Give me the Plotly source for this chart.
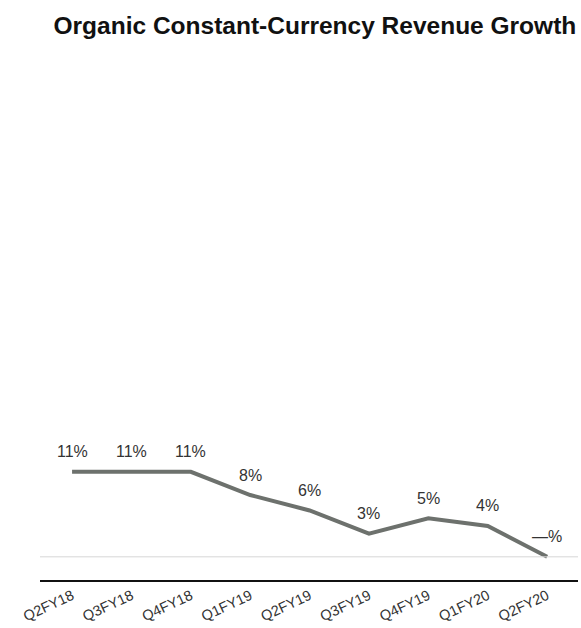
import plotly.graph_objects as go

quarters = ["Q2FY18", "Q3FY18", "Q4FY18", "Q1FY19", "Q2FY19",
            "Q3FY19", "Q4FY19", "Q1FY20", "Q2FY20"]
growth = [11, 11, 11, 8, 6, 3, 5, 4, 0]
labels = ["11%", "11%", "11%", "8%", "6%", "3%", "5%", "4%", "—%"]

FONT = "Liberation Sans, Arial, sans-serif"
xs = list(range(len(quarters)))

fig = go.Figure()
fig.add_trace(go.Scatter(
    x=xs,
    y=growth,
    mode="lines",
    line=dict(color="#6d716d", width=4),
    hoverinfo="skip",
))

# zero reference line
fig.add_shape(type="line", xref="paper", yref="y", x0=0, x1=1, y0=0, y1=0,
              line=dict(color="#d6d6d6", width=1))

# value labels above each point
for xi, yi, lab in zip(xs, growth, labels):
    fig.add_annotation(x=xi, y=yi, text=lab, showarrow=False,
                       yshift=20, xanchor="center", yanchor="middle",
                       font=dict(family=FONT, size=16, color="#333333"))

fig.update_layout(
    width=581, height=628,
    margin=dict(l=40, r=3, t=60, b=48),
    paper_bgcolor="white", plot_bgcolor="white",
    showlegend=False,
    title=dict(text="<b>Organic Constant-Currency Revenue Growth</b>",
               x=0.542, xanchor="center", y=0.96, yanchor="middle",
               font=dict(family=FONT, size=24.5, color="#111111")),
    xaxis=dict(
        range=[-0.54, 8.52],
        tickmode="array",
        tickvals=xs,
        ticktext=quarters,
        tickangle=-25,
        tickfont=dict(family=FONT, size=14.5, color="#333333"),
        showgrid=False, zeroline=False,
        showline=True, linecolor="#111111", linewidth=2,
        ticks="",
        automargin=False,
    ),
    yaxis=dict(
        range=[-3.0, 64.3],
        visible=False,
        showgrid=False, zeroline=False,
        automargin=False,
    ),
)

fig.write_html("out.html")
